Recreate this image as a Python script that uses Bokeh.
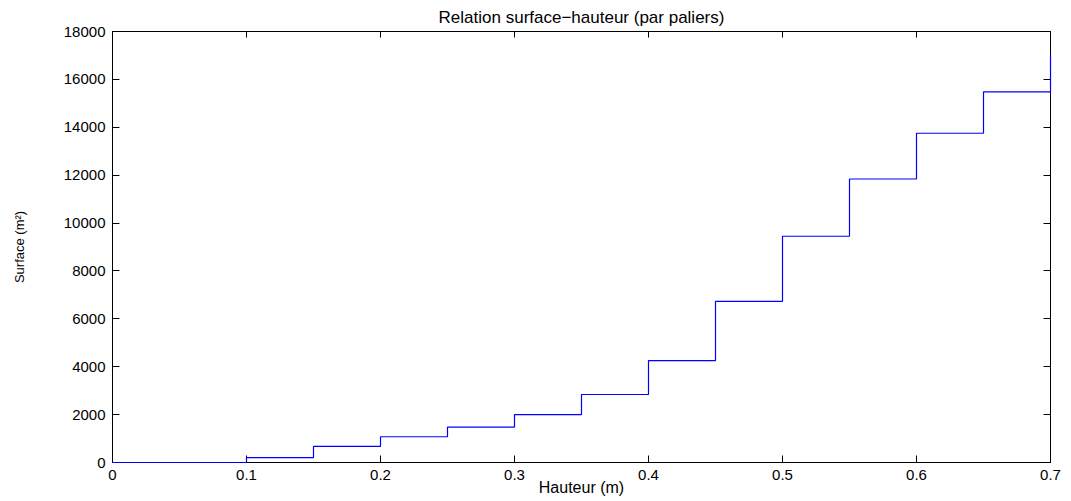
from bokeh.plotting import figure
from bokeh.models import Range1d, FixedTicker, LinearAxis, CustomJSTickFormatter
from bokeh.embed import file_html
from bokeh.resources import INLINE

# Data (step levels)
hauteur = [0.0, 0.1, 0.15, 0.2, 0.25, 0.3, 0.35, 0.4, 0.45, 0.5, 0.55, 0.6, 0.65, 0.7]
surface = [0, 200, 670, 1075, 1480, 2000, 2840, 4255, 6730, 9450, 11840, 13750, 15480, 17030]

x_ticks = [0, 0.1, 0.2, 0.3, 0.4, 0.5, 0.6, 0.7]
x_tick_labels = ["0", "0.1", "0.2", "0.3", "0.4", "0.5", "0.6", "0.7"]
y_ticks = [0, 2000, 4000, 6000, 8000, 10000, 12000, 14000, 16000, 18000]

FONT = "Liberation Sans"

p = figure(width=1071, height=501, output_backend="svg", toolbar_location=None,
           x_range=Range1d(0, 0.7), y_range=Range1d(0, 18000),
           min_border_left=112, min_border_right=21, min_border_top=31, min_border_bottom=39,
           title="Relation surface\u2212hauteur (par paliers)")

p.title.align = "center"
p.title.text_font = FONT
p.title.text_font_size = "17px"
p.title.text_font_style = "normal"
p.title.text_color = "black"

r = p.step(hauteur, surface, mode="after", line_color="#0000ff", line_width=1.2)
r.level = "overlay"

p.grid.visible = False
p.outline_line_color = "black"
p.outline_line_width = 1
p.background_fill_color = "white"
p.border_fill_color = "white"

xa = p.xaxis[0]
xa.ticker = FixedTicker(ticks=x_ticks)
xa.major_label_overrides = {t: l for t, l in zip(x_ticks, x_tick_labels)}
xa.axis_label = "Hauteur (m)"
ya = p.yaxis[0]
ya.ticker = FixedTicker(ticks=y_ticks)
ya.axis_label = "Surface (m\u00b2)"

for ax in (xa, ya):
    ax.major_tick_in = 7
    ax.major_tick_out = 0
    ax.minor_tick_line_color = None
    ax.axis_line_color = "black"
    ax.major_tick_line_color = "black"
    ax.major_label_text_font = FONT
    ax.major_label_text_font_size = "15px"
    ax.major_label_text_color = "black"
    ax.major_label_standoff = 7
    ax.axis_label_text_font = FONT
    ax.axis_label_text_font_style = "normal"
    ax.axis_label_text_color = "black"

xa.axis_label_text_font_size = "16px"
xa.axis_label_standoff = -4
ya.axis_label_text_font_size = "13px"
ya.axis_label_standoff = 34

# Mirror axes (top and right) with inward ticks, empty labels
blank = CustomJSTickFormatter(code="return '';")
top = LinearAxis(ticker=FixedTicker(ticks=x_ticks), formatter=blank,
                 major_tick_in=6, major_tick_out=0,
                 minor_tick_line_color=None, major_label_text_font_size="1px",
                 major_label_standoff=0, axis_line_color="black")
right = LinearAxis(ticker=FixedTicker(ticks=y_ticks), formatter=blank,
                   major_tick_in=7, major_tick_out=0,
                   minor_tick_line_color=None, major_label_text_font_size="1px",
                   major_label_standoff=0, axis_line_color="black")
p.add_layout(top, "above")
p.add_layout(right, "right")

open("out.html", "w").write(file_html(p, INLINE))
